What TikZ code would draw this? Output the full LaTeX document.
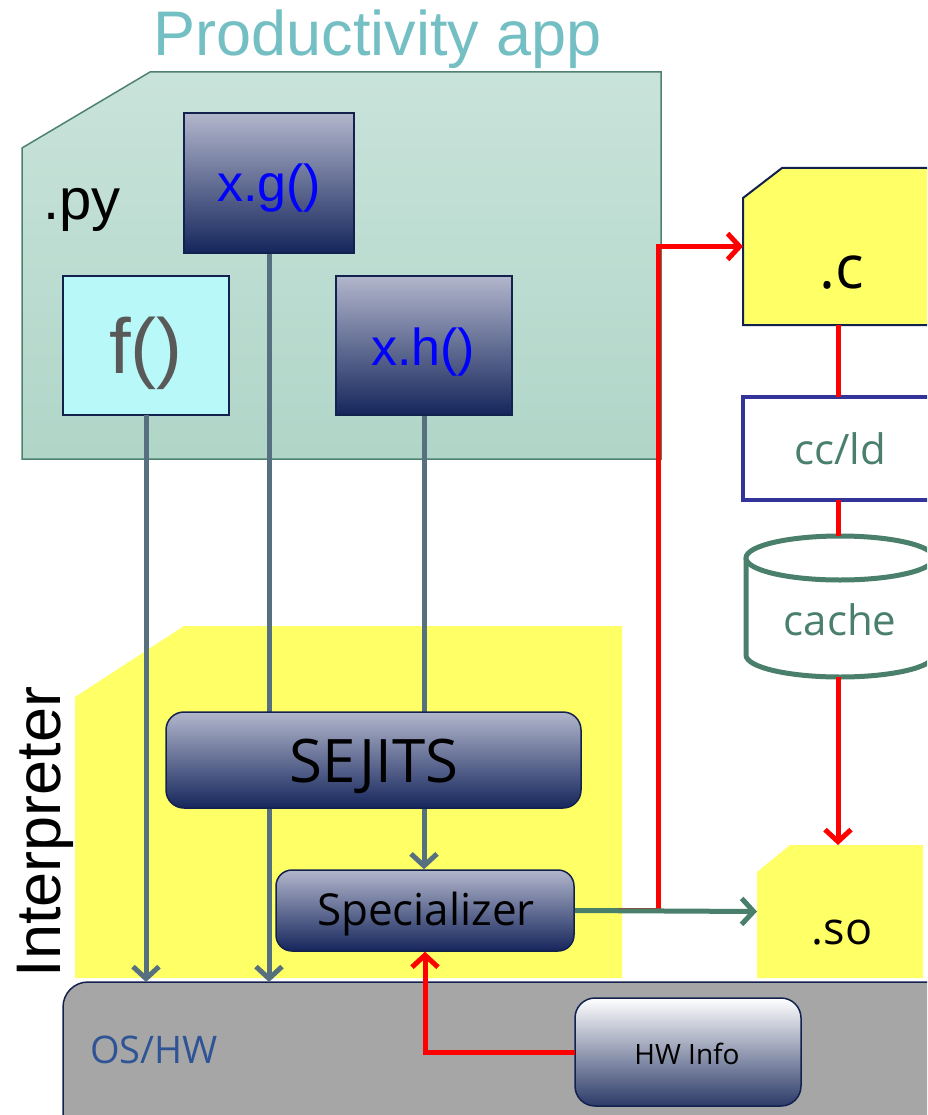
\documentclass[tikz,border=0pt]{standalone}
\usepackage{fontspec}
\setmainfont{Liberation Sans}
\newfontfamily\segoe{Open Sans}
\usetikzlibrary{arrows.meta,calc}
\definecolor{titlec}{HTML}{73BFC4}
\definecolor{pytop}{HTML}{C9E3DA}
\definecolor{pybot}{HTML}{B0D6C8}
\definecolor{pyedge}{HTML}{4E8270}
\definecolor{navyt}{HTML}{B2B6CC}
\definecolor{navyb}{HTML}{15265C}
\definecolor{navyedge}{HTML}{13214F}
\definecolor{fcyan}{HTML}{B9F8F8}
\definecolor{fgray}{HTML}{595959}
\definecolor{codeblue}{HTML}{0000FF}
\definecolor{wire}{HTML}{56707F}
\definecolor{yel}{HTML}{FFFF66}
\definecolor{osgray}{HTML}{A6A6A6}
\definecolor{osblue}{HTML}{2F5496}
\definecolor{grn}{HTML}{4A7F6C}
\definecolor{ccedge}{HTML}{333399}
\definecolor{redl}{HTML}{FF0000}
\definecolor{hwbot}{HTML}{2B3A68}
\tikzset{
  navybox/.style={draw=navyedge, line width=1.5pt, top color=navyt, bottom color=navyb, inner sep=0},
  hidden/.style={inner sep=0, outer sep=0},
  wireline/.style={draw=wire, line width=5pt},
  redline/.style={draw=redl, line width=5pt},
  grnline/.style={draw=grn, line width=5pt},
  barbtip/.style={-{Straight Barb[length=12pt,width=26pt]}},
  lbl/.style={anchor=base, inner sep=0},
}
\begin{document}
\begin{tikzpicture}[x=1pt,y=-1pt]
\useasboundingbox (0,0) rectangle (927,1115);
\clip (0,0) rectangle (927,1115);
\fill[white] (0,0) rectangle (927,1115);

% title
\node[lbl, font=\fontsize{63}{70}\selectfont, text=titlec] (title) at (378,56) {Productivity app};

% .py region
\path[draw=pyedge, line width=1.5pt, top color=pytop, bottom color=pybot]
  (22,148) -- (150,72) -- (661,72) -- (661,459) -- (22,459) -- cycle;
\node[lbl, anchor=base west, font=\fontsize{58}{64}\selectfont] (pylbl) at (43,220) {.py};

% interpreter region
\fill[yel] (75,697) -- (184,626) -- (622,626) -- (622,978) -- (75,978) -- cycle;
\node[lbl, rotate=90, font=\fontsize{63}{70}\selectfont] (interp) at (60,832) {Interpreter};

% OS/HW
\node[hidden, draw=navyedge, line width=1.5pt, fill=osgray, rounded corners=25pt,
      minimum width=920, minimum height=160] (os) at (523,1062) {};
\node[lbl, anchor=base west, font=\segoe\fontsize{38}{44}\selectfont, text=osblue] (oslbl) at (90,1063) {OS/HW};

% HW Info
\node[hidden, draw=navyedge, line width=1.5pt, top color=white, bottom color=hwbot, rounded corners=20pt,
      minimum width=226, minimum height=108] (hw) at (688,1052) {};
\node[lbl, font=\segoe\fontsize{28}{32}\selectfont] (hwlbl) at (687,1064) {HW Info};

% boxes in .py
\node[hidden, draw=navyedge, line width=2pt, fill=fcyan, minimum width=166, minimum height=139] (f) at (146,345.5) {};
\node[lbl, font=\fontsize{78}{84}\selectfont, text=fgray] (flbl) at (146,373) {f()};
\node[navybox, minimum width=170, minimum height=140] (xg) at (269,183) {};
\node[lbl, font=\fontsize{52}{58}\selectfont, text=codeblue] (xglbl) at (269,202) {x.g()};
\node[navybox, minimum width=176, minimum height=139] (xh) at (424,345.5) {};
\node[lbl, font=\fontsize{52}{58}\selectfont, text=codeblue] (xhlbl) at (423,365) {x.h()};

% Specializer
\node[navybox, rounded corners=16pt, minimum width=298, minimum height=81] (spec) at (425,910.5) {};
\node[lbl, font=\segoe\fontsize{44}{50}\selectfont] (speclbl) at (426,925) {Specializer};

% wires from py code
\draw[wireline, barbtip] (f.south) -- (f.south |- os.north);
\draw[wireline, barbtip] (xg.south) -- (xg.south |- os.north);
\draw[wireline, barbtip] (xh.south) -- (xh.south |- spec.north);

% SEJITS
\node[navybox, rounded corners=18pt, minimum width=415, minimum height=96] (sejits) at (373.5,760) {};
\node[lbl, font=\segoe\fontsize{60}{66}\selectfont] (sejlbl) at (374,782) {SEJITS};

% .c file
\path[draw=navyedge, line width=2pt, fill=yel] (743,198) -- (782,168) -- (945,168) -- (945,325) -- (743,325) -- cycle;
\node[hidden, minimum width=202, minimum height=157] (cfile) at (844,246.5) {};
\node[lbl, font=\segoe\fontsize{60}{66}\selectfont] (clbl) at (842,288) {.c};

% cc/ld
\node[hidden, draw=ccedge, line width=4.5pt, fill=white, minimum width=205, minimum height=103] (ccld) at (845.5,448.5) {};
\node[lbl, font=\segoe\fontsize{42}{48}\selectfont, text=grn] (cclbl) at (840,464) {cc/ld};

% cache cylinder
\coordinate (col) at (838,0);
\path[fill=white, draw=grn, line width=5pt]
  (746,558) -- (746,655) .. controls (746,667.2) and (788.1,677) .. (840,677)
  .. controls (891.9,677) and (934,667.2) .. (934,655) -- (934,558);
\draw[grn, line width=5pt, fill=white] (840,558) ellipse [x radius=94, y radius=22];
\node[hidden, minimum width=188, minimum height=141] (cache) at (840,606.5) {};
\node[lbl, font=\segoe\fontsize{42}{48}\selectfont, text=grn] (cachelbl) at (840,635) {cache};

% .so file
\fill[yel] (757,872) -- (790,845) -- (923,845) -- (923,978) -- (757,978) -- cycle;
\node[hidden, minimum width=166, minimum height=133] (so) at (840,911.5) {};
\node[lbl, font=\segoe\fontsize{45}{50}\selectfont] (solbl) at (842,944) {.so};

% red compile chain
\draw[redline] (cfile.south -| col) -- (ccld.north -| col);
\draw[redline] (ccld.south -| col) -- (cache.north -| col);
\draw[redline, barbtip] (cache.south -| col) -- (so.north -| col);

% red: specializer -> .c
\coordinate (jct) at (658,910.5);
\draw[redline, barbtip] (spec.east) -- (jct) |- (cfile.west);
% red: HW info -> specializer
\draw[redline, barbtip] (hw.west) -| (spec.south);
% green: specializer -> .so
\draw[grnline, barbtip] (spec.east) -- (so.west);
\end{tikzpicture}
\end{document}
